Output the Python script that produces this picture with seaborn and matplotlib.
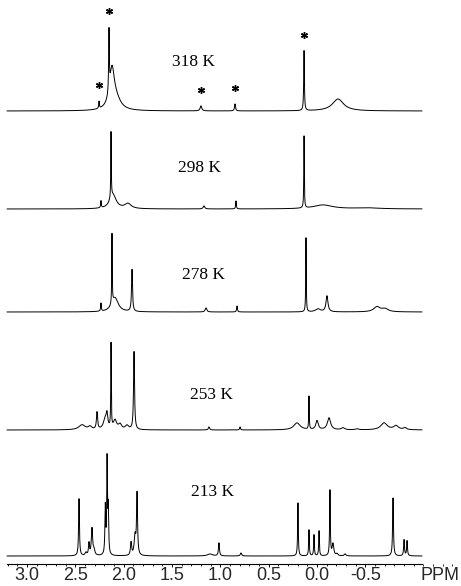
import numpy as np
import matplotlib
matplotlib.use("Agg")
import matplotlib.pyplot as plt
import seaborn as sns
from matplotlib.ticker import FixedLocator, MultipleLocator

# peak lists: shift (ppm), height, half width (ppm)
temps = ["318 K", "298 K", "278 K", "253 K", "213 K"]

shift_318 = [2.255, 2.152, 2.121, 2.080, 1.201, 0.849, 0.135, -0.216]
height_318 = [7, 61, 38, 10, 5, 7, 60, 12]
width_318 = [0.004, 0.004, 0.03, 0.06, 0.01, 0.006, 0.004, 0.07]

shift_298 = [2.235, 2.131, 2.111, 1.956, 1.170, 0.839, 0.135, -0.061, -0.516]
height_298 = [7, 66, 14, 5, 3, 8, 72, 4, 1]
width_298 = [0.004, 0.003, 0.04, 0.04, 0.01, 0.004, 0.003, 0.12, 0.15]

shift_278 = [2.235, 2.121, 2.090, 1.914, 1.149, 0.828, 0.115, -0.009, -0.102, -0.619, -0.702]
height_278 = [8, 70, 14, 42, 4, 6, 74, 3, 16, 5, 3]
width_278 = [0.004, 0.003, 0.04, 0.006, 0.01, 0.005, 0.003, 0.03, 0.012, 0.04, 0.04]

shift_253 = [2.431, 2.349, 2.276, 2.193, 2.173, 2.131, 2.090, 2.038, 1.966, 1.893,
             1.118, 0.797, 0.208, 0.084, 0.001, -0.123, -0.268, -0.413, -0.692, -0.816, -0.909]
height_253 = [5, 3, 17, 10, 13, 84, 9, 5, 4, 78,
              3, 3, 7, 33, 9, 12, 2, 1, 7, 4, 2]
width_253 = [0.04, 0.02, 0.007, 0.02, 0.01, 0.003, 0.02, 0.02, 0.02, 0.006,
             0.008, 0.005, 0.04, 0.003, 0.015, 0.02, 0.02, 0.02, 0.04, 0.03, 0.02]

shift_213 = [2.462, 2.390, 2.359, 2.328, 2.307, 2.190, 2.172, 2.160, 1.924, 1.883, 1.862,
             1.108, 1.015, 0.787, 0.198, 0.084, 0.032, -0.020, -0.133, -0.164, -0.206, -0.289,
             -0.785, -0.899, -0.930]
height_213 = [57, 3, 12, 27, 5, 48, 92, 46, 13, 19, 61,
              2, 13, 3, 53, 26, 21, 25, 65, 12, 2, 2,
              58, 16, 15]
width_213 = [0.005, 0.01, 0.006, 0.008, 0.01, 0.005, 0.004, 0.005, 0.007, 0.01, 0.006,
             0.03, 0.006, 0.008, 0.004, 0.004, 0.004, 0.004, 0.004, 0.01, 0.01, 0.01,
             0.005, 0.005, 0.005]

# starred (solvent / impurity) signals in the top trace
star_shifts = [2.255, 2.152, 1.201, 0.849, 0.135]

tick_values = [3.0, 2.5, 2.0, 1.5, 1.0, 0.5, 0.0, -0.5]
tick_labels = ["3.0", "2.5", "2.0", "1.5", "1.0", "0.5", "0.0", "-0.5"]

shifts = [shift_318, shift_298, shift_278, shift_253, shift_213]
heights = [height_318, height_298, height_278, height_253, height_213]
widths = [width_318, width_298, width_278, width_253, width_213]

# layout (y in figure pixels from top)
baselines = [111, 209, 312, 430, 556]
label_pos = [(1.283, 62), (1.211, 168), (1.170, 275), (1.087, 395), (1.077, 492)]

sns.set_theme(style="white")
plt.rcParams["font.family"] = ["Liberation Sans", "DejaVu Sans"]
plt.rcParams["axes.unicode_minus"] = False

fig = plt.figure(figsize=(4.61, 5.86), dpi=100)
ax = fig.add_axes([0, 0, 1, 1])

ppm = np.linspace(3.207, -1.085, 24000)


def spectrum(x, pos, h, w):
    y = np.zeros_like(x)
    for p, a, g in zip(pos, h, w):
        y += a / (1 + ((x - p) / g) ** 2)
    return y


for i, t in enumerate(temps):
    inten = spectrum(ppm, shifts[i], heights[i], widths[i])
    sns.lineplot(x=ppm, y=baselines[i] - inten, ax=ax, color="black",
                 linewidth=0.7, estimator=None, sort=False)
    lx, ly = label_pos[i]
    ax.text(lx, ly, t, ha="center", va="center", fontsize=12.5,
            family=["Liberation Serif", "DejaVu Serif"], color="black")
    if i == 0:
        for s in star_shifts:
            near = np.abs(ppm - s) < 0.02
            top = inten[near].max()
            ax.plot(s, baselines[0] - top - 16, marker=(6, 2, 0), color="black",
                    markersize=5, mew=1.0)

ax.set_xlim(3.279, -1.488)
ax.set_ylim(586, 0)
for side in ["left", "right", "top"]:
    ax.spines[side].set_visible(False)
ax.spines["bottom"].set_position(("data", 564))
ax.spines["bottom"].set_bounds(3.207, -1.085)
ax.spines["bottom"].set_linewidth(0.8)
ax.spines["bottom"].set_color("black")
ax.xaxis.set_major_locator(FixedLocator(tick_values))
ax.set_xticklabels(tick_labels)
ax.xaxis.set_minor_locator(MultipleLocator(0.1))
ax.tick_params(axis="x", which="major", bottom=True, direction="out", length=2,
               width=0.7, color="black", labelsize=13, pad=0)
ax.tick_params(axis="x", which="minor", bottom=True, direction="out", length=1.5,
               width=0.6, color="black")
ax.set_yticks([])
ax.set_xlabel("")
ax.set_ylabel("")
ax.text(-1.271, 576, "PPM", ha="center", va="center", fontsize=13)

fig.savefig("out.png", dpi=100)
